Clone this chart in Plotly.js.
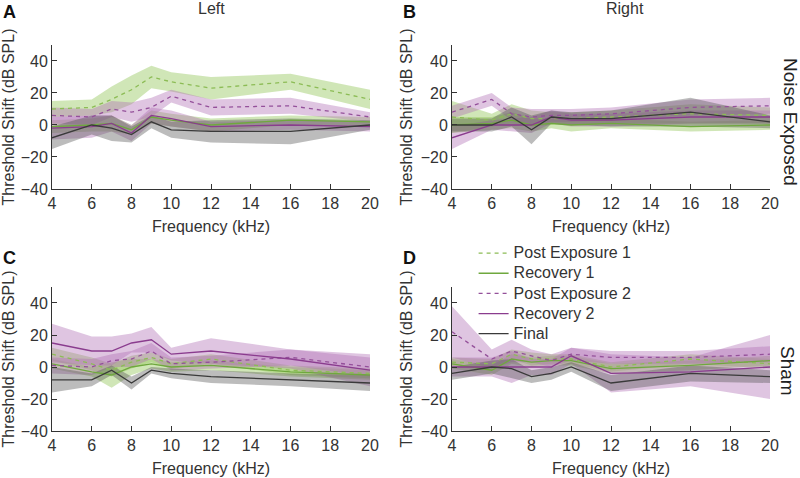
<!DOCTYPE html>
<html>
<head>
<meta charset="utf-8">
<script src="https://cdn.plot.ly/plotly-3.0.1.min.js"></script>
<style>html,body{margin:0;padding:0;background:#fff;}#chart{width:800px;height:478px;}</style>
</head>
<body>
<div id="chart"></div>
<script>
// Frequencies (kHz)
const freq = [4, 6, 7, 8, 9, 10, 12, 16, 20];
const seriesNames = ["Post Exposure 1", "Recovery 1", "Post Exposure 2", "Recovery 2", "Final"];

// Panel A: Left, Noise Exposed
const A_pe1 = [10, 11, 16, 22, 30, 27, 23, 27, 16];
const A_pe1_err = [5, 5, 8, 9, 7, 6, 7, 5, 6];
const A_rec1 = [-1, 0, 1, -3, 5, 3, 0, 3, 2];
const A_rec1_err = [4, 4, 5, 3, 4, 4, 4, 3, 3];
const A_pe2 = [6, 5, 10, 8, 11, 18, 11, 12, 5];
const A_pe2_err = [5, 5, 5, 6, 6, 4, 5, 5, 3];
const A_rec2 = [-2, -1, 1, -5, 6, 4, -1, 0, -1];
const A_rec2_err = [7, 7, 5, 5, 5, 5, 3, 3, 3];
const A_fin = [-8, 0, -2, -6, 2, -3, -4, -4, 0];
const A_fin_err = [7, 6, 8, 5, 4, 5, 7, 8, 3];

// Panel B: Right, Noise Exposed
const B_pe1 = [5, 3, 7, 4, 4, 4, 5, 7, 6];
const B_pe1_err = [10, 4, 6, 5, 4, 4, 4, 6, 5];
const B_rec1 = [0, 1, 3, 0, 1, 0, 1, -1, 0];
const B_rec1_err = [5, 4, 5, 4, 3, 4, 3, 3, 3];
const B_pe2 = [8, 16, 7, 5, 6, 6, 7, 11, 12];
const B_pe2_err = [4, 4, 4, 5, 4, 4, 4, 5, 5];
const B_rec2 = [-8, 0, 0, 0, 5, 3, 3, 5, 5];
const B_rec2_err = [7, 3, 4, 5, 4, 4, 4, 4, 4];
const B_fin = [0, 0, 5, -3, 5, 4, 4, 8, 2];
const B_fin_err = [4, 4, 6, 9, 4, 4, 5, 9, 4];

// Panel C: Left, Sham
const C_pe1 = [8, 2, -2, 3, 6, 2, 5, -2, -4];
const C_pe1_err = [4, 4, 4, 4, 3, 3, 3, 3, 3];
const C_rec1 = [2, -3, -5, 0, 2, 0, 1, -3, -5];
const C_rec1_err = [3, 3, 8, 5, 3, 3, 3, 3, 3];
const C_pe2 = [1, 0, 4, 5, 10, 2, 3, 6, 0];
const C_pe2_err = [5, 5, 4, 5, 5, 4, 4, 5, 6];
const C_rec2 = [15, 10, 10, 15, 17, 8, 10, 5, -2];
const C_rec2_err = [12, 9, 9, 6, 8, 4, 8, 6, 10];
const C_fin = [-8, -8, -2, -10, -2, -4, -6, -8, -10];
const C_fin_err = [8, 4, 3, 4, 2, 3, 4, 4, 5];

// Panel D: Right, Sham
const D_pe1 = [3, 2, 8, 5, 5, 5, 0, 5, 2];
const D_pe1_err = [3, 3, 3, 4, 3, 3, 3, 3, 3];
const D_rec1 = [2, -2, 5, 3, 4, 4, -1, 1, 4];
const D_rec1_err = [3, 3, 3, 3, 3, 3, 3, 3, 3];
const D_pe2 = [22, 5, 10, 7, 4, 8, 6, 6, 8];
const D_pe2_err = [16, 6, 7, 4, 4, 4, 4, 4, 5];
const D_rec2 = [0, 0, 0, 0, 0, 7, -4, -3, 0];
const D_rec2_err = [6, 6, 10, 5, 5, 5, 12, 9, 20];
const D_fin = [-4, 0, -1, -6, -4, 0, -10, -4, -6];
const D_fin_err = [4, 4, 6, 4, 4, 3, 5, 5, 4];

const xTicks = [4, 6, 8, 10, 12, 14, 16, 18, 20];
const yTicks = [-40, -20, 0, 20, 40];

const styles = [
  {line: "#8cbc55", dash: "4px,4px", fill: "rgba(150,200,95,0.45)"},
  {line: "#6fa83e", dash: "solid", fill: "rgba(150,200,95,0.45)"},
  {line: "#94509a", dash: "4px,4px", fill: "rgba(175,110,180,0.4)"},
  {line: "#8a3c8e", dash: "solid", fill: "rgba(175,110,180,0.4)"},
  {line: "#3a3a3a", dash: "solid", fill: "rgba(80,80,80,0.38)"}
];

const panels = [
  {xa: "x", ya: "y", data: [[A_pe1, A_pe1_err], [A_rec1, A_rec1_err], [A_pe2, A_pe2_err], [A_rec2, A_rec2_err], [A_fin, A_fin_err]]},
  {xa: "x2", ya: "y2", data: [[B_pe1, B_pe1_err], [B_rec1, B_rec1_err], [B_pe2, B_pe2_err], [B_rec2, B_rec2_err], [B_fin, B_fin_err]]},
  {xa: "x3", ya: "y3", data: [[C_pe1, C_pe1_err], [C_rec1, C_rec1_err], [C_pe2, C_pe2_err], [C_rec2, C_rec2_err], [C_fin, C_fin_err]]},
  {xa: "x4", ya: "y4", data: [[D_pe1, D_pe1_err], [D_rec1, D_rec1_err], [D_pe2, D_pe2_err], [D_rec2, D_rec2_err], [D_fin, D_fin_err]]}
];

const traces = [];
panels.forEach((p, pi) => {
  p.data.forEach((d, si) => {
    const mean = d[0], err = d[1];
    const upper = mean.map((v, i) => v + err[i]);
    const lower = mean.map((v, i) => v - err[i]);
    traces.push({
      x: freq.concat(freq.slice().reverse()),
      y: upper.concat(lower.slice().reverse()),
      xaxis: p.xa, yaxis: p.ya,
      type: "scatter", mode: "lines", fill: "toself",
      fillcolor: styles[si].fill, line: {width: 0, color: "rgba(0,0,0,0)"},
      showlegend: false, hoverinfo: "skip"
    });
  });
  p.data.forEach((d, si) => {
    traces.push({
      x: freq, y: d[0], xaxis: p.xa, yaxis: p.ya,
      type: "scatter", mode: "lines",
      name: '<span style="font-size:16px">' + seriesNames[si] + '</span>',
      line: {color: styles[si].line, width: 1.3, dash: styles[si].dash},
      showlegend: pi === 3
    });
  });
});

const FAM = "Liberation Sans, Arial, sans-serif";
const font = {family: FAM, size: 16, color: "#333"};
function xax(domain, anchor) {
  return {domain: domain, anchor: anchor, range: [4, 20], tickvals: xTicks,
    ticks: "inside", ticklen: 5, tickcolor: "#333", showline: true, linecolor: "#333", linewidth: 1,
    showgrid: false, zeroline: false, tickfont: font, automargin: false,
    title: {text: "Frequency (kHz)", font: font, standoff: 9}};
}
function yax(domain, anchor) {
  return {domain: domain, anchor: anchor, range: [-40, 50], tickvals: yTicks,
    ticktext: ["\u221240", "\u221220", "0", "20", "40"],
    ticks: "inside", ticklen: 5, tickcolor: "#333", showline: true, linecolor: "#333", linewidth: 1,
    showgrid: false, zeroline: false, tickfont: font, automargin: false,
    title: {text: "Threshold Shift (dB SPL)", font: font, standoff: 4}};
}

const xL = [0.065, 0.4625], xR = [0.565, 0.9625];
const yT = [0.6046, 0.9059], yB = [0.0983, 0.3996];

const ann = (text, x, y, opts) => Object.assign({text: text, x: x, y: y, xref: "paper", yref: "paper",
  showarrow: false, font: font}, opts || {});
const letterFont = {family: FAM, size: 18, color: "#111"};
const sideFont = {family: FAM, size: 19, color: "#222"};

const layout = {
  width: 800, height: 478,
  margin: {l: 0, r: 0, t: 0, b: 0},
  paper_bgcolor: "#fff", plot_bgcolor: "rgba(0,0,0,0)",
  font: font,
  xaxis: xax(xL, "y"), yaxis: yax(yT, "x"),
  xaxis2: xax(xR, "y2"), yaxis2: yax(yT, "x2"),
  xaxis3: xax(xL, "y3"), yaxis3: yax(yB, "x3"),
  xaxis4: xax(xR, "y4"), yaxis4: yax(yB, "x4"),
  showlegend: true,
  legend: {x: 0.592, y: 1 - 238 / 478, xanchor: "left", yanchor: "top", bgcolor: "rgba(0,0,0,0)",
    font: {family: FAM, size: 13.2, color: "#333"}, tracegroupgap: 0, itemwidth: 30},
  annotations: [
    ann("<b>A</b>", 1 / 800, 1 - 0 / 478, {xanchor: "left", yanchor: "top", font: letterFont}),
    ann("<b>B</b>", 401 / 800, 1 - 0 / 478, {xanchor: "left", yanchor: "top", font: letterFont}),
    ann("<b>C</b>", 1 / 800, 1 - 246 / 478, {xanchor: "left", yanchor: "top", font: letterFont}),
    ann("<b>D</b>", 401 / 800, 1 - 246 / 478, {xanchor: "left", yanchor: "top", font: letterFont}),
    ann("Left", 211 / 800, 1 - 8 / 478, {xanchor: "center", yanchor: "middle"}),
    ann("Right", 625 / 800, 1 - 8 / 478, {xanchor: "center", yanchor: "middle"}),
    ann("Noise Exposed", 790 / 800, 1 - 122 / 478, {xanchor: "center", yanchor: "middle", textangle: 90, font: sideFont}),
    ann("Sham", 788 / 800, 1 - 371 / 478, {xanchor: "center", yanchor: "middle", textangle: 90, font: sideFont})
  ]
};

Plotly.newPlot("chart", traces, layout, {staticPlot: true, displayModeBar: false});
</script>
</body>
</html>
